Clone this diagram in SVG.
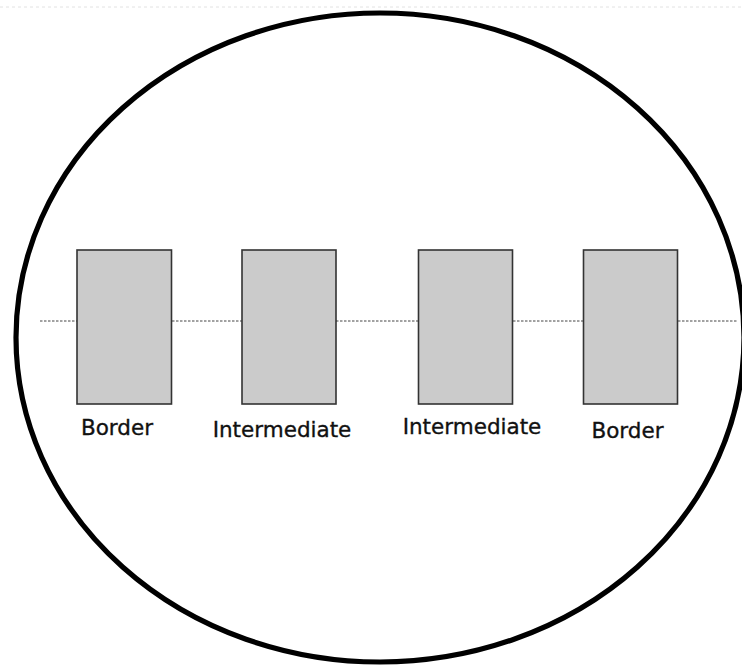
<svg xmlns="http://www.w3.org/2000/svg" width="742" height="666" viewBox="0 0 742 666">
<style>
.box{fill:#cbcbcb;stroke:#333;stroke-width:1.6}
.lbl{font-family:"DejaVu Sans",sans-serif;font-size:21.5px;fill:#111;stroke:#111;stroke-width:0.35;text-anchor:middle}
.dash{stroke:#444;stroke-width:1;stroke-dasharray:2.5 1.5;fill:none}
</style>
<rect width="742" height="666" fill="#fff"/>
<line x1="0" y1="7" x2="742" y2="7" stroke="#e2e2e2" stroke-width="1" stroke-dasharray="3 3"/>
<ellipse id="boundary" cx="380" cy="337.5" rx="364" ry="324.5" fill="none" stroke="#000" stroke-width="5.2"/>
<g id="connectors">
<line class="dash" x1="40" y1="321" x2="77" y2="321"/>
<line class="dash" x1="172" y1="321" x2="242" y2="321"/>
<line class="dash" x1="336" y1="321" x2="418" y2="321"/>
<line class="dash" x1="513" y1="321" x2="583" y2="321"/>
<line class="dash" x1="678" y1="321" x2="738" y2="321"/>
</g>
<g id="border1"><rect class="box" x="77" y="250" width="94.5" height="154"/><text class="lbl" x="117" y="435">Border</text></g>
<g id="intermediate1"><rect class="box" x="242" y="250" width="94" height="154"/><text class="lbl" x="282" y="437">Intermediate</text></g>
<g id="intermediate2"><rect class="box" x="418.5" y="250" width="94" height="154"/><text class="lbl" x="472" y="434">Intermediate</text></g>
<g id="border2"><rect class="box" x="583.5" y="250" width="94" height="154"/><text class="lbl" x="627.5" y="438">Border</text></g>
</svg>
